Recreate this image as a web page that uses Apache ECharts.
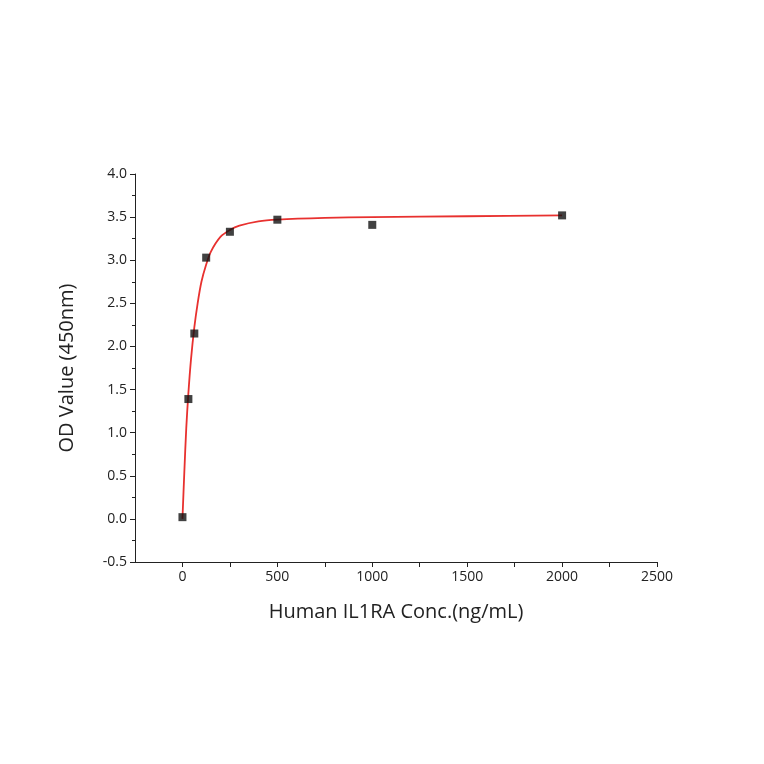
<!DOCTYPE html>
<html><head><meta charset="utf-8">
<script src="https://cdn.jsdelivr.net/npm/echarts@6/dist/echarts.min.js"></script>
<style>html,body{margin:0;background:#fff}#c{width:764px;height:764px}</style>
</head><body><div id="c"></div>
<script>
const conc = [0, 31.25, 62.5, 125, 250, 500, 1000, 2000];
const od = [0.02, 1.39, 2.15, 3.03, 3.33, 3.47, 3.41, 3.52];
const fitX = [0, 10, 20, 31, 45, 62.5, 80, 100, 125, 150, 200, 250, 300, 400, 500, 750, 1000, 1500, 2000];
const fitY = [0, 0.55, 1.05, 1.45, 1.85, 2.22, 2.5, 2.75, 2.95, 3.1, 3.27, 3.35, 3.4, 3.45, 3.47, 3.49, 3.5, 3.51, 3.52];

const chart = echarts.init(document.getElementById('c'));
const font = 'Open Sans';
chart.setOption({
  animation: false,
  grid: { left: 135, right: 107, top: 174, bottom: 202 },
  xAxis: {
    type: 'value', min: -250, max: 2500, interval: 250,
    name: 'Human IL1RA Conc.(ng/mL)', nameLocation: 'middle', nameGap: 40,
    nameTextStyle: { fontSize: 20, color: '#222', fontFamily: font },
    axisLine: { onZero: false, lineStyle: { color: '#222' } },
    axisTick: { show: true, length: 5, lineStyle: { color: '#222' } },
    axisLabel: { fontSize: 14, color: '#222', fontFamily: font, showMinLabel: false,
      formatter: v => (v >= 0 && v % 500 === 0) ? v : '' },
    splitLine: { show: false }
  },
  yAxis: {
    type: 'value', min: -0.5, max: 4.0, interval: 0.5,
    name: 'OD Value (450nm)', nameLocation: 'middle', nameGap: 58,
    nameTextStyle: { fontSize: 20, color: '#222', fontFamily: font },
    axisLine: { show: true, onZero: false, lineStyle: { color: '#222' } },
    axisTick: { show: true, length: 5, lineStyle: { color: '#222' } },
    minorTick: { show: true, splitNumber: 2, length: 3, lineStyle: { color: '#222' } },
    axisLabel: { fontSize: 14, color: '#222', fontFamily: font, formatter: v => v.toFixed(1) },
    splitLine: { show: false }
  },
  series: [
    { type: 'line', data: fitX.map((x, i) => [x, fitY[i]]), smooth: 0.3, showSymbol: false,
      lineStyle: { color: '#e8312f', width: 1.8 }, z: 1 },
    { type: 'scatter', data: conc.map((x, i) => [x, od[i]]), symbol: 'rect', symbolSize: 8,
      itemStyle: { color: '#111' }, z: 2 }
  ]
});
</script></body></html>
